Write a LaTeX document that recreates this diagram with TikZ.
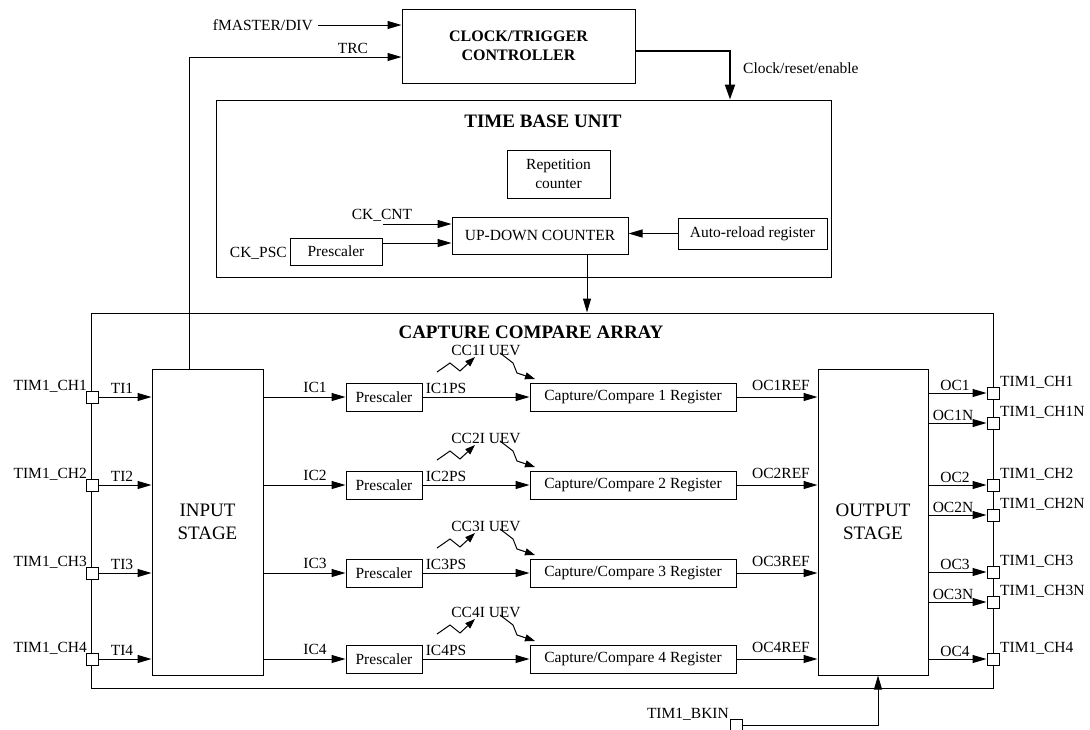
\documentclass[tikz,border=0pt]{standalone}
\usepackage{fontspec}
\setmainfont{Liberation Serif}
\usetikzlibrary{arrows.meta,calc}
\tikzset{
  ln/.style={line width=1pt, draw=black},
  arr/.style={ln, -{Triangle[length=14pt,width=8pt]}},
  sarr/.style={ln, -{Triangle[length=10pt,width=7pt]}},
  thickarr/.style={line width=2pt, draw=black, -{Triangle[length=15pt,width=10pt]}},
  box/.style={draw, line width=1pt, align=center, inner sep=0pt, font=\fontsize{15.5}{19}\selectfont},
  pad/.style={draw, line width=1pt, fill=white, minimum size=12pt, inner sep=0pt},
  lbl/.style={font=\fontsize{15.5}{17}\selectfont, inner sep=0pt},
  ttl/.style={font=\fontsize{19}{22}\selectfont\bfseries, inner sep=0pt},
  big/.style={font=\fontsize{19}{23}\selectfont}
}
\begin{document}
\begin{tikzpicture}[x=1pt,y=-1pt]
\fill[white] (0,0) rectangle (1090,729);
\useasboundingbox (0,0) rectangle (1090,729);

% clock / trigger controller
\node[box, minimum width=233pt, minimum height=74pt, font=\fontsize{16}{18.5}\selectfont\bfseries] (clk) at (518.5,46) {CLOCK/TRIGGER\\CONTROLLER};
\node[lbl, anchor=east] (fmt) at (313,25) {fMASTER/DIV};
\draw[arr] ([xshift=5pt]fmt.east) -- (fmt.east -| clk.west);

% time base unit
\node[box, minimum width=615pt, minimum height=177pt] (tbu) at (523.5,188.5) {};
\node[ttl] (tbut) at (543,121) {TIME BASE UNIT};
\node[box, minimum width=103pt, minimum height=48pt] (rep) at (558.5,174) {Repetition\\counter};
\node[box, minimum width=176pt, minimum height=37pt] (cnt) at (540,235.5) {UP-DOWN COUNTER};
\node[box, minimum width=92pt, minimum height=27pt] (psc0) at (336,251.5) {Prescaler};
\node[box, minimum width=149pt, minimum height=31pt] (arl) at (752.5,233.5) {Auto-reload register};
\node[lbl, anchor=east] (ckpsc) at (287,253) {CK\_PSC};
\node[lbl, anchor=south] (ckcnt) at (382,222) {CK\_CNT};
\coordinate (ckcs) at (383,224);
\draw[arr] (ckcs) -- (ckcs -| cnt.west);
\coordinate (p0o) at ([yshift=8.5pt]psc0.east);
\draw[arr] (p0o) -- (p0o -| cnt.west);
\draw[arr] (arl.west) -- (arl.west -| cnt.east);

% clock/reset/enable
\coordinate (cko) at (730,51);
\draw[thickarr] (clk.east |- cko) -- (cko) -- (cko |- tbu.north);
\node[lbl, anchor=base west] (cre) at (743,73) {Clock/reset/enable};

% capture compare array
\node[box, minimum width=902pt, minimum height=375pt] (cca) at (542,500.5) {};
\node[ttl] (ccat) at (531,332) {CAPTURE COMPARE ARRAY};
\coordinate (dnx) at (587,0);
\draw[arr] (cnt.south -| dnx) -- (cca.north -| dnx);

\node[box, big, minimum width=111pt, minimum height=306pt] (ins) at (207.5,522) {INPUT\\STAGE};
\node[box, big, minimum width=110pt, minimum height=306pt] (outs) at (873,522) {OUTPUT\\STAGE};

% TRC
\coordinate (trcpt) at (189,57);
\draw[arr] (ins.north -| trcpt) -- (trcpt) -- (trcpt -| clk.west);
\node[lbl, anchor=base] (trc) at (353,53) {TRC};

% channels
\foreach \ch/\ry in {1/397,2/485,3/573,4/659}{
  \node[pad] (ipad\ch) at (92,\ry) {};
  \node[lbl, anchor=base east] (itxt\ch) at (87,\ry-7) {TIM1\_CH\ch};
  \draw[arr] (ipad\ch.east) -- (ipad\ch.east -| ins.west);
  \node[lbl, anchor=base] (ti\ch) at (122,\ry-4) {TI\ch};
  \node[box, minimum width=76pt, minimum height=28pt] (psc\ch) at (384,\ry) {Prescaler};
  \draw[arr] (psc\ch.west -| ins.east) -- (psc\ch.west);
  \node[lbl, anchor=base] (ic\ch) at (315,\ry-5) {IC\ch};
  \node[box, minimum width=206pt, minimum height=28pt] (ccr\ch) at (633,\ry) {Capture/Compare \ch\ Register};
  \draw[arr] (psc\ch.east) -- (ccr\ch.west);
  \node[lbl, anchor=base] (icps\ch) at (446,\ry-4) {IC\ch PS};
  \node[lbl, anchor=base] (cci\ch) at (486,\ry-42) {CC\ch I UEV};
  \draw[sarr] (437,\ry-25) -- (450,\ry-34) -- (460,\ry-26) -- (475,\ry-40);
  \draw[sarr] (500,\ry-44) -- (513,\ry-34) -- (517,\ry-24) -- (535,\ry-18);
  \draw[arr] (ccr\ch.east) -- (ccr\ch.east -| outs.west);
  \node[lbl, anchor=base] (ocref\ch) at (781,\ry-7) {OC\ch REF};
}

\foreach \ch/\oy in {1/393,2/485,3/572,4/659}{
  \node[pad] (opad\ch) at (993,\oy) {};
  \draw[arr] (opad\ch.west -| outs.east) -- (opad\ch.west);
  \node[lbl, anchor=base] (oc\ch) at (955,\oy-3) {OC\ch};
  \node[lbl, anchor=base west] (otxt\ch) at (1000,\oy-7) {TIM1\_CH\ch};
}
\foreach \ch/\oy in {1/423,2/515,3/602}{
  \node[pad] (npad\ch) at (993,\oy) {};
  \draw[arr] (npad\ch.west -| outs.east) -- (npad\ch.west);
  \node[lbl, anchor=base] (ocn\ch) at (953,\oy-3) {OC\ch N};
  \node[lbl, anchor=base west] (ntxt\ch) at (1000,\oy-7) {TIM1\_CH\ch N};
}

% break input
\node[pad] (bk) at (736,725) {};
\node[lbl, anchor=base east] (bkt) at (729,718) {TIM1\_BKIN};
\coordinate (bkx) at (878,0);
\draw[arr] (bk.east) -| (outs.south -| bkx);
\end{tikzpicture}
\end{document}
